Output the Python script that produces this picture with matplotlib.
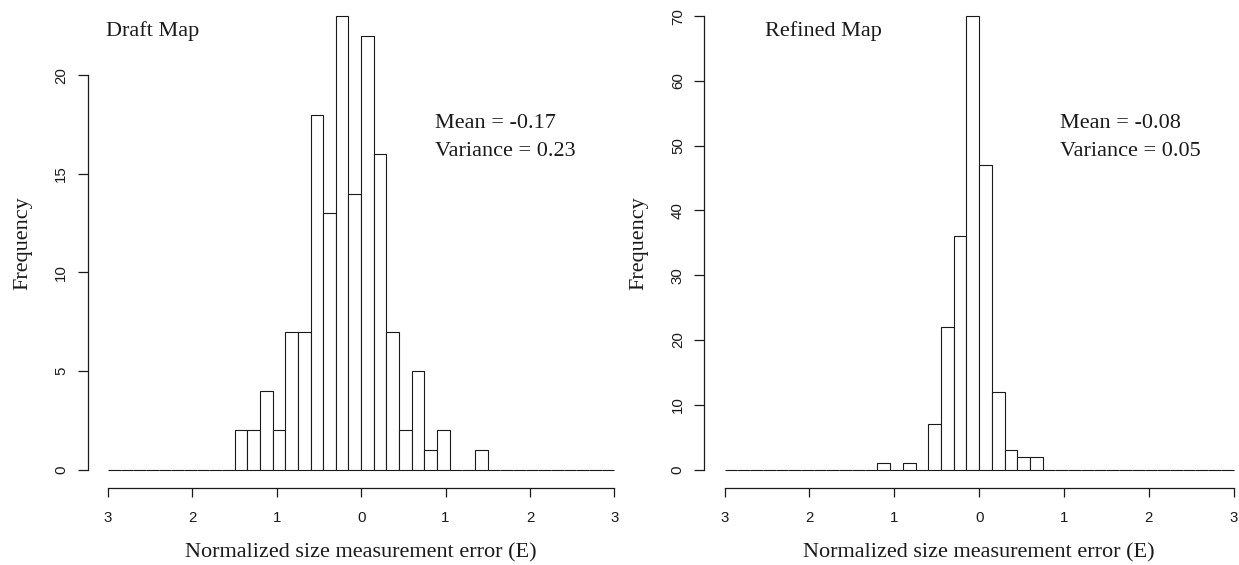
import matplotlib
matplotlib.use("Agg")
import matplotlib.pyplot as plt
import numpy as np

# histogram breaks: -3 .. 3, width 0.15 (40 bins)
bin_edges = np.linspace(-3, 3, 41)

draft_counts = [0, 0, 0, 0, 0, 0, 0, 0, 0, 0,
                2, 2, 4, 2, 7, 7, 18, 13, 23, 14,
                22, 16, 7, 2, 5, 1, 2, 0, 0, 1,
                0, 0, 0, 0, 0, 0, 0, 0, 0, 0]
refined_counts = [0, 0, 0, 0, 0, 0, 0, 0, 0, 0,
                  0, 0, 1, 0, 1, 0, 7, 22, 36, 70,
                  47, 12, 3, 2, 2, 0, 0, 0, 0, 0,
                  0, 0, 0, 0, 0, 0, 0, 0, 0, 0]

xticks = [-3, -2, -1, 0, 1, 2, 3]
xtick_labels = ["3", "2", "1", "0", "1", "2", "3"]
draft_yticks = [0, 5, 10, 15, 20]
refined_yticks = [0, 10, 20, 30, 40, 50, 60, 70]

panel_titles = ["Draft Map", "Refined Map"]
panel_stats = [("Mean = -0.17", "Variance = 0.23"),
               ("Mean = -0.08", "Variance = 0.05")]
xlab = "Normalized size measurement error (E)"
ylab = "Frequency"

W, H = 1239, 565
serif = "Liberation Serif"
sans = "Liberation Sans"
ink = "#1a1a1a"

fig = plt.figure(figsize=(W / 100, H / 100), dpi=100)


def add_ax(left, right, top, bottom):
    return fig.add_axes([left / W, 1 - bottom / H, (right - left) / W, (bottom - top) / H])


def draw_hist(ax, counts, yticks):
    ax.bar(bin_edges[:-1], counts, width=np.diff(bin_edges), align="edge",
           facecolor="white", edgecolor=ink, linewidth=0.8)
    ymax = max(counts)
    ax.set_xlim(-3.24, 3.24)
    ax.set_ylim(-0.04 * ymax, 1.04 * ymax)
    for s in ["top", "right"]:
        ax.spines[s].set_visible(False)
    ax.spines["left"].set_bounds(yticks[0], yticks[-1])
    ax.spines["bottom"].set_bounds(-3, 3)
    for s in ["left", "bottom"]:
        ax.spines[s].set_linewidth(0.9)
        ax.spines[s].set_color(ink)
    ax.set_xticks(xticks)
    ax.set_xticklabels(xtick_labels, fontfamily=sans)
    ax.set_yticks(yticks)
    ax.set_yticklabels([str(v) for v in yticks], fontfamily=sans,
                       rotation=90, va="center")
    ax.tick_params(axis="x", length=6.2, width=0.9, pad=10.5, labelsize=10.8,
                   color=ink, labelcolor=ink)
    ax.tick_params(axis="y", length=7, width=0.9, pad=7, labelsize=10.8,
                   color=ink, labelcolor=ink)
    ax.patch.set_visible(False)


ax1 = add_ax(87.7, 634.6, -2, 487.7)
draw_hist(ax1, draft_counts, draft_yticks)
ax2 = add_ax(704.3, 1254.0, -2, 487.7)
draw_hist(ax2, refined_counts, refined_yticks)

# labels
for cx, fx in [(361, 23), (979, 639)]:
    fig.text(cx / W, 1 - 557.5 / H, xlab, ha="center", va="baseline",
             fontfamily=serif, fontsize=16, color=ink)
    fig.text(fx / W, 1 - 243 / H, ylab, ha="center", va="center", rotation=90,
             fontfamily=serif, fontsize=16, color=ink)

# panel annotations
for (tx, sx), title, (m, v) in zip([(105.5, 435), (765, 1060)], panel_titles, panel_stats):
    fig.text(tx / W, 1 - 36 / H, title, ha="left", va="baseline",
             fontfamily=serif, fontsize=16, color=ink)
    fig.text(sx / W, 1 - 127.5 / H, m, ha="left", va="baseline",
             fontfamily=serif, fontsize=16, color=ink)
    fig.text(sx / W, 1 - 155.5 / H, v, ha="left", va="baseline",
             fontfamily=serif, fontsize=16, color=ink)

fig.savefig("out.png", dpi=100, facecolor="white")
